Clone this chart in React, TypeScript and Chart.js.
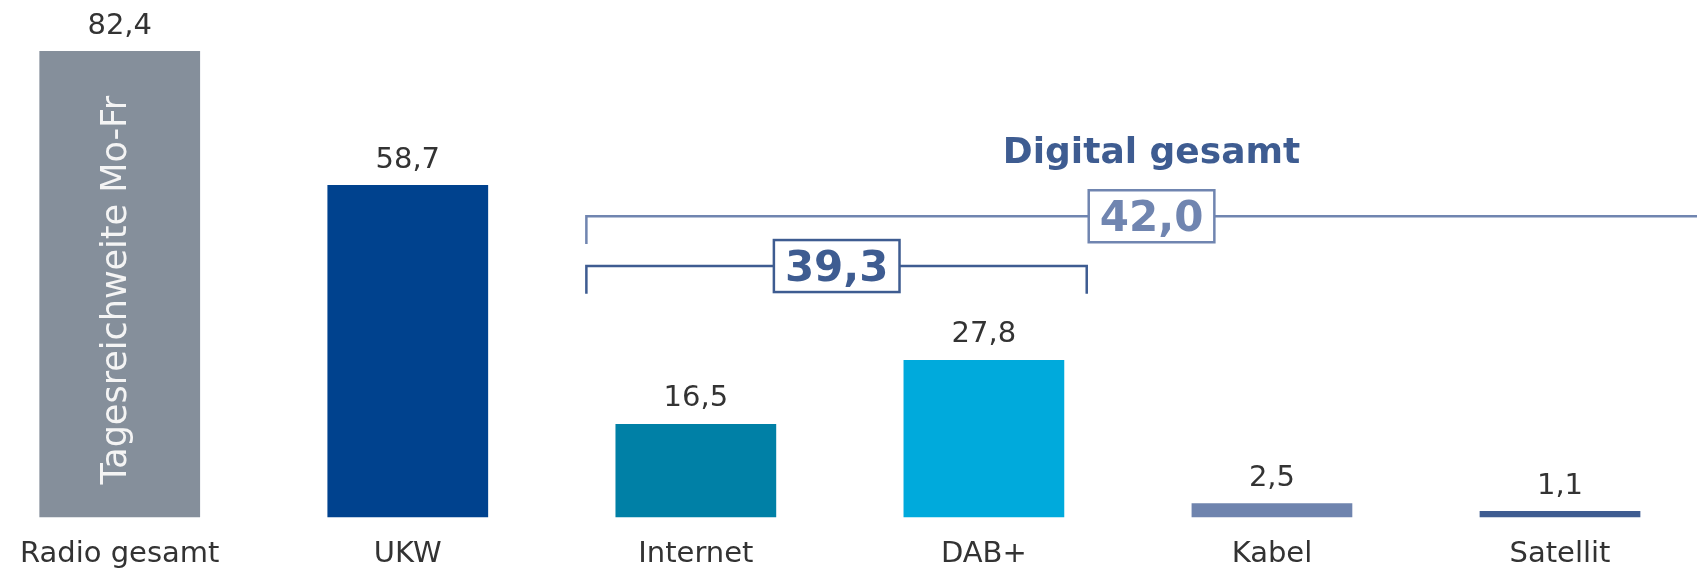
import React, { useEffect, useRef } from "react";
import { Chart, registerables } from "chart.js";

Chart.register(...registerables);

// ---- data ----
const categories = ["Radio gesamt", "UKW", "Internet", "DAB+", "Kabel", "Satellit"];
const values = [82.4, 58.7, 16.5, 27.8, 2.5, 1.1];
const barColors = ["#858F9B", "#00428E", "#0080A6", "#00AADC", "#6F84AE", "#3E5C91"];
const barLabel = "Tagesreichweite Mo-Fr";
const groupTitle = "Digital gesamt";
const internetDabTotal = 39.3;
const digitalTotal = 42.0;

const FONT = "'DejaVu Sans', Verdana, sans-serif";
const fmt = (v: number) => v.toFixed(1).replace(".", ",");

const overlayPlugin = {
  id: "overlay",
  afterDatasetsDraw(chart: any) {
    const ctx = chart.ctx as CanvasRenderingContext2D;
    const meta = chart.getDatasetMeta(0);
    const xs = chart.scales.x;
    const ys = chart.scales.y;
    ctx.save();

    // value labels above bars
    ctx.font = `29px ${FONT}`;
    ctx.fillStyle = "#333333";
    ctx.textAlign = "center";
    ctx.textBaseline = "alphabetic";
    meta.data.forEach((bar: any, i: number) => {
      ctx.fillText(fmt(values[i]), bar.x, bar.y - 17.5);
    });

    // rotated label inside first bar
    const b0 = meta.data[0];
    ctx.save();
    ctx.translate(b0.x + 6.5, (b0.y + b0.base) / 2 + 6);
    ctx.rotate(-Math.PI / 2);
    ctx.font = `35px ${FONT}`;
    ctx.fillStyle = "#F4F4F4";
    ctx.textAlign = "center";
    ctx.fillText(barLabel, 0, 0);
    ctx.restore();

    const light = "#7085B0";
    const dark = "#3E5C91";
    const leftX = xs.getPixelForValue(1.62);

    // Digital gesamt bracket (42,0)
    const y42 = ys.getPixelForValue(53.2);
    const y42b = ys.getPixelForValue(48.3);
    ctx.strokeStyle = light;
    ctx.lineWidth = 2.5;
    ctx.beginPath();
    ctx.moveTo(leftX, y42b);
    ctx.lineTo(leftX, y42);
    ctx.lineTo(chart.width, y42);
    ctx.stroke();

    // Internet + DAB+ bracket (39,3)
    const y39 = ys.getPixelForValue(44.4);
    const y39b = ys.getPixelForValue(39.5);
    const rightX = xs.getPixelForValue(3.357);
    ctx.strokeStyle = dark;
    ctx.beginPath();
    ctx.moveTo(leftX, y39b);
    ctx.lineTo(leftX, y39);
    ctx.lineTo(rightX, y39);
    ctx.lineTo(rightX, y39b);
    ctx.stroke();

    const drawBox = (text: string, cx: number, cy: number, color: string) => {
      ctx.font = `bold 42px ${FONT}`;
      const w = ctx.measureText(text).width + 22;
      const h = 52;
      ctx.fillStyle = "#FFFFFF";
      ctx.fillRect(cx - w / 2, cy - h / 2, w, h);
      ctx.strokeStyle = color;
      ctx.lineWidth = 2.5;
      ctx.strokeRect(cx - w / 2, cy - h / 2, w, h);
      ctx.fillStyle = color;
      ctx.textAlign = "center";
      ctx.textBaseline = "alphabetic";
      ctx.fillText(text, cx, cy + 15);
    };

    const cx42 = xs.getPixelForValue(3.582);
    drawBox(fmt(digitalTotal), cx42, y42, light);
    drawBox(fmt(internetDabTotal), xs.getPixelForValue(2.489), y39, dark);

    // group title
    ctx.font = `bold 36px ${FONT}`;
    ctx.fillStyle = dark;
    ctx.textAlign = "center";
    ctx.textBaseline = "alphabetic";
    ctx.fillText(groupTitle, cx42, ys.getPixelForValue(62.55));

    ctx.restore();
  },
};

export default function App() {
  const canvasRef = useRef<HTMLCanvasElement | null>(null);

  useEffect(() => {
    if (!canvasRef.current) return;
    Chart.defaults.font.family = FONT;
    const chart = new Chart(canvasRef.current, {
      type: "bar",
      data: {
        labels: categories,
        datasets: [
          {
            data: values,
            backgroundColor: barColors,
            borderWidth: 0,
            barPercentage: 1,
            categoryPercentage: 0.558,
            clip: false as any,
          },
        ],
      },
      options: {
        animation: false,
        responsive: false,
        maintainAspectRatio: false,
        devicePixelRatio: 1,
        layout: { padding: { left: 117.5, right: 137, top: 8, bottom: 0 } },
        plugins: {
          legend: { display: false },
          tooltip: { enabled: false },
          title: { display: false },
        },
        scales: {
          x: {
            type: "category",
            offset: false,
            grid: { display: false, drawTicks: false },
            border: { display: false },
            ticks: {
              color: "#333333",
              font: { size: 29, family: FONT },
              padding: 20,
              maxRotation: 0,
              autoSkip: false,
            },
            afterFit: (s: any) => {
              s.height = 54.7;
            },
          },
          y: {
            display: false,
            min: 0,
            max: 90,
          },
        },
      },
      plugins: [overlayPlugin],
    });
    return () => chart.destroy();
  }, []);

  return (
    <div style={{ position: "fixed", left: 0, top: 0, width: 1697, height: 572, background: "#FFFFFF" }}>
      <canvas ref={canvasRef} width={1697} height={572} style={{ display: "block", width: 1697, height: 572 }} />
    </div>
  );
}
